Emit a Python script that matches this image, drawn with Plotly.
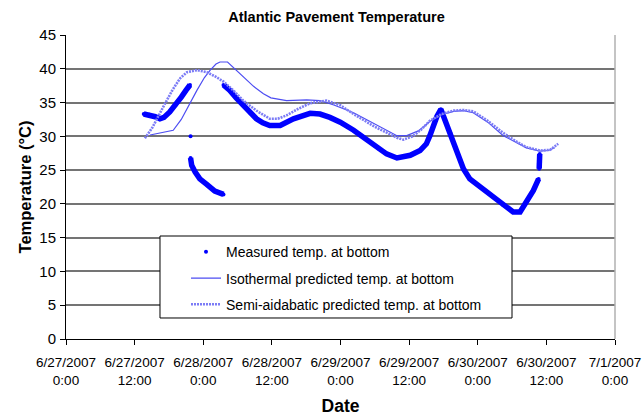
import pandas as pd
import plotly.graph_objects as go

# ---- data (hours after 6/27/2007 0:00, temperature in °C) ----
START = pd.Timestamp("2007-06-27 00:00")

meas_hours = [13.59, 14.60, 15.61, 16.42, 17.13, 18.14, 19.15, 20.16, 20.97, 21.68, None,
              21.78, None,
              21.78, 21.98, 22.59, 23.40, 24.61, 26.02, 27.54, None,
              27.54, 28.65, 29.76, 30.98, 32.19, 33.30, 34.41, 35.63, 37.45, 39.77, 42.70, 44.42,
              46.14, 47.96, 50.29, 51.70, 53.12, 54.63, 56.05, 57.87, 60.19, 61.91, 63.02,
              63.63, 64.24, 64.84, 65.55, 66.26, 67.17, 68.28, 69.49, 70.61, 72.43, 74.75,
              76.47, 78.19, 79.40, 80.51, 81.73, 82.64, None,
              82.74, 82.79, 82.84]
meas_temp = [33.3, 33.2, 32.9, 32.6, 32.8, 33.6, 34.6, 35.8, 36.8, 37.6, None,
             30.0, None,
             26.8, 25.7, 24.7, 23.7, 22.9, 21.9, 21.4, None,
             37.6, 36.8, 35.7, 34.6, 33.5, 32.6, 32.0, 31.6, 31.6, 32.6, 33.4, 33.3,
             32.8, 32.1, 30.9, 30.0, 29.2, 28.2, 27.4, 26.8, 27.2, 27.9, 28.9,
             30.1, 31.6, 32.9, 34.0, 32.4, 30.6, 27.9, 25.2, 23.7, 22.5, 21.0,
             19.8, 18.8, 18.8, 20.2, 22.0, 23.7, None,
             25.2, 26.2, 27.4]

iso_hours = [14.70, 16.62, 18.75, 20.16, 21.68, 22.89, 24.21, 25.22, 26.23, 26.93, 28.25,
             29.26, 30.98, 32.80, 34.52, 35.83, 38.56, 42.10, 44.42, 46.95, 50.29, 54.03,
             57.87, 59.59, 61.61, 63.63, 65.65, 67.78, 69.49, 71.21, 73.74, 76.47, 78.80,
             80.51, 82.84, 84.36, 85.47]
iso_temp = [30.2, 30.5, 30.9, 32.5, 35.0, 36.8, 38.7, 39.8, 40.7, 41.0, 41.0,
            40.2, 38.8, 37.4, 36.3, 35.7, 35.3, 35.4, 35.3, 34.6, 33.5, 31.8,
            30.1, 30.1, 30.8, 32.2, 33.2, 33.7, 33.8, 33.5, 32.1, 30.1, 29.0,
            28.3, 27.8, 27.9, 28.3]

semi_hours = [13.79, 15.11, 17.03, 18.64, 19.96, 21.17, 22.89, 24.61, 26.23, 27.54, 29.26,
              30.98, 33.30, 35.63, 37.04, 38.56, 40.68, 42.70, 45.53, 47.96, 50.29, 54.03,
              57.87, 58.98, 60.60, 62.12, 63.63, 65.65, 67.78, 69.49, 71.21, 73.74, 76.47,
              78.80, 80.51, 82.84, 84.66, 86.07]
semi_temp = [29.7, 31.3, 34.4, 36.9, 38.6, 39.5, 39.8, 39.5, 38.8, 38.1, 36.8,
             35.3, 33.8, 32.6, 32.6, 33.1, 34.1, 34.9, 35.3, 34.6, 33.3, 31.4,
             29.8, 29.5, 30.0, 31.0, 32.3, 33.3, 33.8, 33.9, 33.7, 32.3, 30.5,
             29.2, 28.4, 27.9, 28.0, 28.9]

tick_hours = [0, 12, 24, 36, 48, 60, 72, 84, 96]
tick_text = ["6/27/2007<br>0:00", "6/27/2007<br>12:00", "6/28/2007<br>0:00",
             "6/28/2007<br>12:00", "6/29/2007<br>0:00", "6/29/2007<br>12:00",
             "6/30/2007<br>0:00", "6/30/2007<br>12:00", "7/1/2007<br>0:00"]


def to_time(hours):
    return [None if h is None else START + pd.Timedelta(hours=h) for h in hours]


FONT = "Arial, Liberation Sans, sans-serif"

fig = go.Figure()
fig.add_trace(go.Scatter(x=to_time(meas_hours), y=meas_temp, mode="lines",
                         line=dict(color="#0000ff", width=5.5), connectgaps=False,
                         showlegend=False, hoverinfo="skip", legendgroup="m"))
fig.add_trace(go.Scatter(x=to_time(meas_hours), y=meas_temp, mode="markers",
                         marker=dict(color="#0000ff", size=4), legendgroup="m",
                         name="Measured temp. at bottom"))
fig.add_trace(go.Scatter(x=to_time(iso_hours), y=iso_temp, mode="lines",
                         line=dict(color="#4d4df2", width=1.2), legendgroup="i",
                         name="Isothermal predicted temp. at bottom"))
fig.add_trace(go.Scatter(x=to_time(semi_hours), y=semi_temp, mode="lines",
                         line=dict(color="#7c7cf6", width=2.6, dash="2px,1px"),
                         legendgroup="s",
                         name="Semi-aidabatic predicted temp. at bottom"))

fig.update_layout(
    width=642, height=416,
    margin=dict(l=66, r=27, t=35, b=77),
    paper_bgcolor="white", plot_bgcolor="white",
    font=dict(family=FONT, size=14, color="black"),
    title=dict(text="<b>Atlantic Pavement Temperature</b>", x=0.4927, xref="paper",
               xanchor="center", y=0.959, yanchor="middle",
               font=dict(size=14.5, family=FONT)),
    xaxis=dict(range=[START, START + pd.Timedelta(hours=96)],
               tickvals=to_time(tick_hours), ticktext=tick_text,
               showgrid=False, showline=True, linecolor="black", linewidth=1,
               ticks="outside", ticklen=5, tickcolor="black", ticklabelstandoff=6,
               ticklabeloverflow="allow",
               tickfont=dict(size=13.5, family=FONT), automargin=False,
               title=dict(text="<b>Date</b>", font=dict(size=17.5, family=FONT), standoff=12),
               zeroline=False),
    yaxis=dict(range=[0, 45], dtick=5, showgrid=True, gridcolor="#747474", gridwidth=1.5,
               showline=True, linecolor="black", linewidth=1,
               ticks="outside", ticklen=5, tickcolor="black", ticklabelstandoff=1,
               tickfont=dict(size=15, family=FONT), automargin=False,
               title=dict(text="<b>Temperature (°C)</b>", font=dict(size=16.5, family=FONT),
                          standoff=3),
               zeroline=False),
    legend=dict(x=0.2186, y=0.338, xanchor="left", yanchor="top",
                bgcolor="rgba(0,0,0,0)", borderwidth=0, traceorder="grouped",
                font=dict(size=14, family=FONT), tracegroupgap=5),
    shapes=[
        dict(type="rect", xref="paper", yref="paper", x0=0.1712, x1=0.8124,
             y0=0.0691, y1=0.3388, fillcolor="white", line=dict(color="black", width=1),
             layer="above"),
        dict(type="line", xref="paper", yref="paper", x0=1, x1=1, y0=0, y1=1,
             line=dict(color="#b0b0b0", width=1.5)),
    ],
)

fig.write_html("out.html",
               config={"displayModeBar": False},
               post_script="document.body.style.margin='0';"
                           "document.body.style.overflow='hidden';")
